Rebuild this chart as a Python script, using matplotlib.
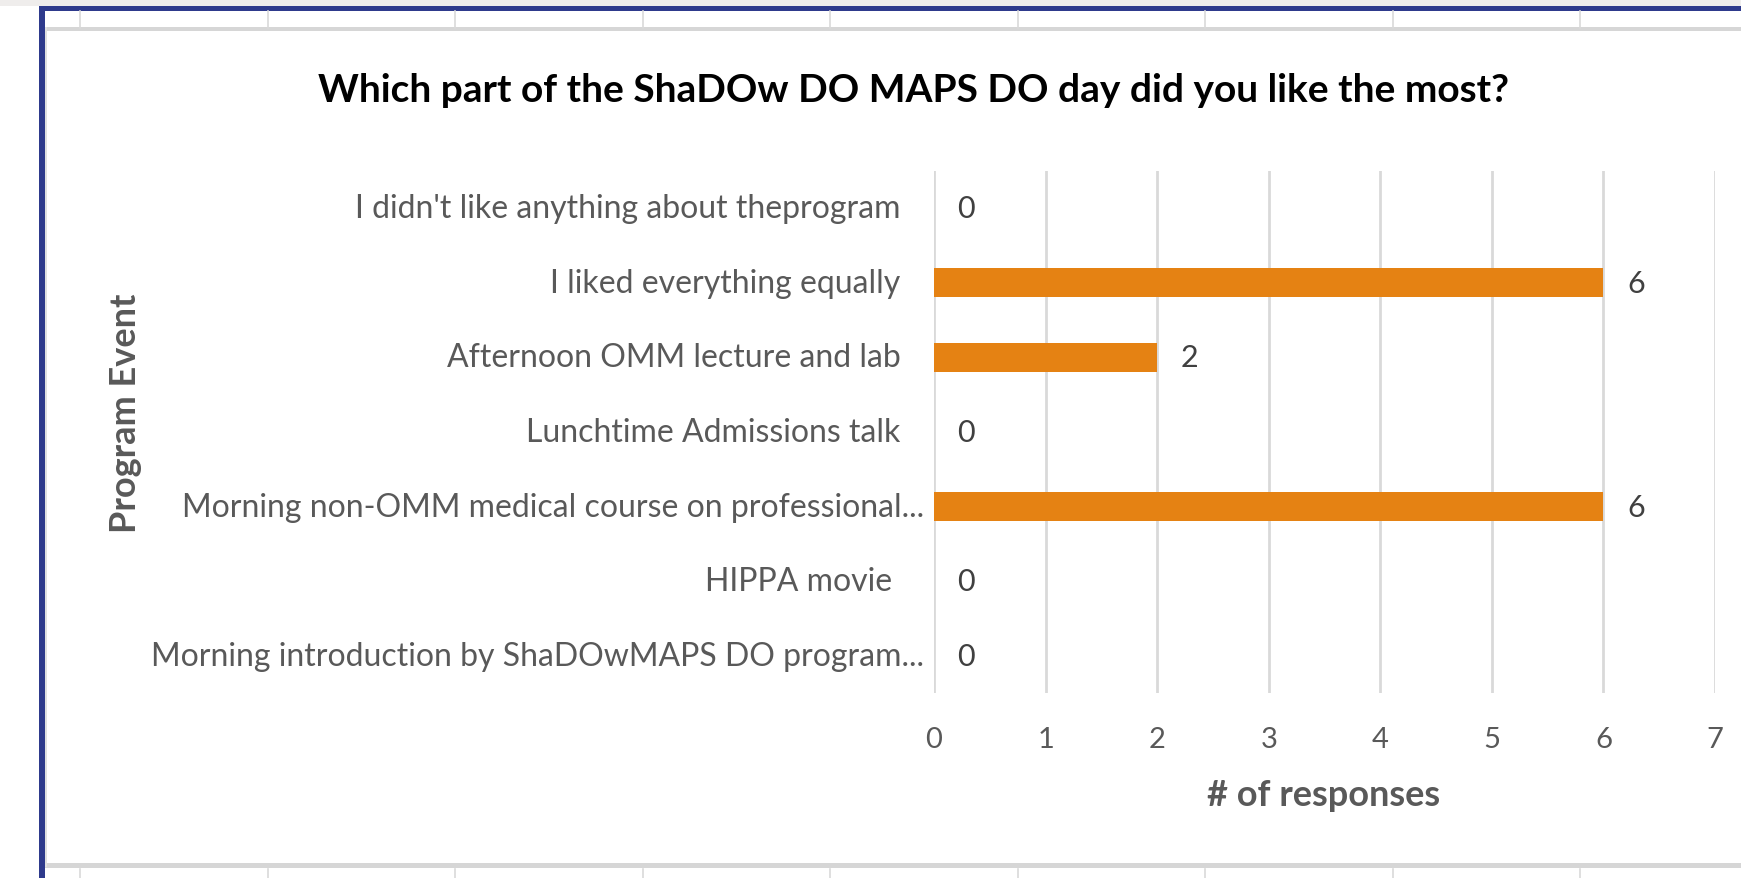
import matplotlib.pyplot as plt
from matplotlib.patches import Rectangle
import matplotlib.transforms as mtransforms

# Dữ liệu (thứ tự Excel: từ dưới lên trên)
categories = [
    "Morning introduction by ShaDOwMAPS DO program...",
    "HIPPA movie ",
    "Morning non-OMM medical course on professional...",
    "Lunchtime Admissions talk",
    "Afternoon OMM lecture and lab",
    "I liked everything equally",
    "I didn't like anything about theprogram",
]
responses = [0, 0, 6, 0, 2, 6, 0]
x_ticks = [0, 1, 2, 3, 4, 5, 6, 7]

title = "Which part of the ShaDOw DO MAPS DO day did you like the most?"
x_label = "# of responses"
y_label = "Program Event"

FONT = ["Lato", "DejaVu Sans"]
plt.rcParams['font.family'] = FONT

W, H = 1741, 879
fig = plt.figure(figsize=(W / 100, H / 100), dpi=100)

# Nền: khung bảng tính phía sau biểu đồ
bg = fig.add_axes([0, 0, 1, 1], zorder=-1)
bg.set_xlim(0, W)
bg.set_ylim(H, 0)
bg.axis('off')
bg.add_patch(Rectangle((0, 0), W, 7, color='#efedec', lw=0))
for k in range(10):
    gx = 80 + 187.5 * k
    bg.plot([gx, gx], [12, 29], color='#d9d9d9', lw=1.2)
    bg.plot([gx, gx], [870, H], color='#d9d9d9', lw=1.2)
bg.add_patch(Rectangle((45, 28), W, 4, color='#d6d6d6', lw=0))
bg.add_patch(Rectangle((45, 864), W, 5, color='#d6d6d6', lw=0))
bg.add_patch(Rectangle((45, 28), 2, 840, color='#e0e0e0', lw=0))
bg.add_patch(Rectangle((39, 7), W, 5, color='#2e3a8c', lw=0))
bg.add_patch(Rectangle((39, 7), 6, H, color='#2e3a8c', lw=0))

# Biểu đồ cột ngang
ax = fig.add_axes([934 / W, 1 - 694 / H, (1715 - 934) / W, (694 - 172) / H])
pos = list(range(len(categories)))
bars = ax.barh(pos, responses, height=0.39, color='#e58213', zorder=3)
ax.set_xlim(0, 7)
ax.set_ylim(-0.5, len(categories) - 0.5)
ax.set_xticks(x_ticks)
ax.set_xticklabels([str(t) for t in x_ticks])
ax.tick_params(axis='x', length=0, pad=24, labelsize=21, labelcolor='#595959')
ax.set_yticks([])
ax.grid(axis='x', color='#d9d9d9', lw=2, zorder=0)
for s in ax.spines.values():
    s.set_visible(False)

# Nhãn danh mục (nhãn bị cắt "..." nằm sát trục hơn)
for p, c in zip(pos, categories):
    off = -7 if c.endswith('...') else -24
    tr = mtransforms.offset_copy(ax.get_yaxis_transform(), fig=fig, x=off, y=0, units='points')
    ax.text(0, p, c, transform=tr, ha='right', va='center', fontsize=23, color='#595959')

# Nhãn giá trị
for p, v in zip(pos, responses):
    tr = mtransforms.offset_copy(ax.transData, fig=fig, x=17, y=0, units='points')
    ax.text(v, p, str(v), transform=tr, ha='left', va='center', fontsize=22, color='#404040')

fig.text(1324 / W, 1 - 796 / H, x_label, ha='center', va='center', fontsize=26,
         fontweight='bold', color='#595959')
fig.text(125 / W, 1 - 413 / H, y_label, ha='center', va='center', rotation=90,
         fontsize=26, fontweight='bold', color='#595959')
fig.text(913 / W, 1 - 91 / H, title, ha='center', va='center', fontsize=28,
         fontweight='bold', color='black')

fig.savefig('out.png', dpi=100)
